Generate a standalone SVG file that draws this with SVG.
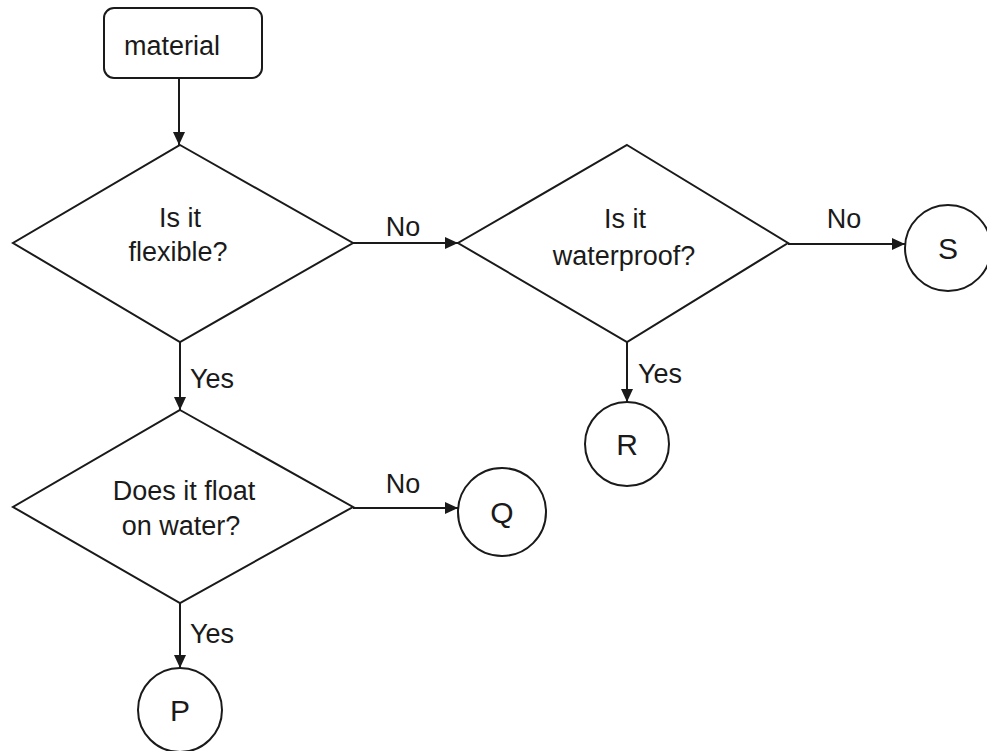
<svg xmlns="http://www.w3.org/2000/svg" width="987" height="751" viewBox="0 0 987 751">
<defs>
<marker id="arr" markerWidth="14" markerHeight="12" refX="13" refY="6" orient="auto" markerUnits="userSpaceOnUse">
<path d="M0,0 L13,6 L0,12 Z" fill="#1a1a1a"/>
</marker>
<style>
.shape{fill:#fff;stroke:#1a1a1a;stroke-width:2}
.line{stroke:#1a1a1a;stroke-width:2;fill:none}
text{font-family:"Liberation Sans",Arial,sans-serif;fill:#1a1a1a;font-size:27px}
.c{text-anchor:middle}
.big{font-size:30px}
</style>
</defs>
<rect width="987" height="751" fill="#fff"/>
<g id="connectors">
<line class="line" x1="179" y1="78" x2="179" y2="145" marker-end="url(#arr)"/>
<line class="line" x1="353" y1="243" x2="458" y2="243" marker-end="url(#arr)"/>
<text x="403" y="236" class="c">No</text>
<line class="line" x1="788" y1="244" x2="905" y2="244" marker-end="url(#arr)"/>
<text x="844" y="228" class="c">No</text>
<line class="line" x1="627" y1="342" x2="627" y2="402" marker-end="url(#arr)"/>
<text x="638" y="383">Yes</text>
<line class="line" x1="180" y1="342" x2="180" y2="410" marker-end="url(#arr)"/>
<text x="190" y="388">Yes</text>
<line class="line" x1="353" y1="508" x2="458" y2="508" marker-end="url(#arr)"/>
<text x="403" y="493" class="c">No</text>
<line class="line" x1="180" y1="603" x2="180" y2="668" marker-end="url(#arr)"/>
<text x="190" y="643">Yes</text>
</g>
<g id="material">
<rect class="shape" x="104" y="8" width="158" height="70" rx="10"/>
<text x="172" y="55" class="c">material</text>
</g>
<g id="flexible">
<polygon class="shape" points="180,145 353,243 180,342 13,243"/>
<text x="180" y="227" class="c">Is it</text>
<text x="178" y="261" class="c">flexible?</text>
</g>
<g id="waterproof">
<polygon class="shape" points="627,145 788,243 627,342 458,243"/>
<text x="625" y="228" class="c">Is it</text>
<text x="624" y="265" class="c">waterproof?</text>
</g>
<g id="float">
<polygon class="shape" points="180,410 353,507 180,603 13,507"/>
<text x="184" y="500" class="c">Does it float</text>
<text x="181" y="535" class="c">on water?</text>
</g>
<g id="S">
<circle class="shape" cx="948" cy="248" r="43"/>
<text x="948" y="259" class="c big">S</text>
</g>
<g id="R">
<circle class="shape" cx="627" cy="444" r="42"/>
<text x="627" y="455" class="c big">R</text>
</g>
<g id="Q">
<circle class="shape" cx="502" cy="512" r="44"/>
<text x="502" y="523" class="c big">Q</text>
</g>
<g id="P">
<circle class="shape" cx="180" cy="710" r="42"/>
<text x="180" y="721" class="c big">P</text>
</g>
</svg>
